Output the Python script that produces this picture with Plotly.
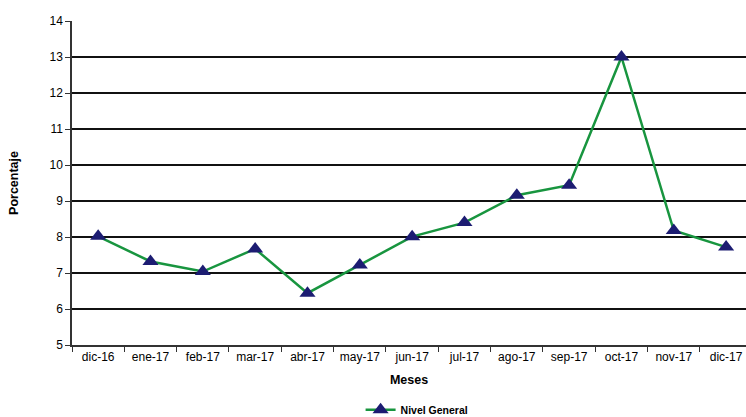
import plotly.graph_objects as go

meses = ["dic-16", "ene-17", "feb-17", "mar-17", "abr-17", "may-17", "jun-17",
         "jul-17", "ago-17", "sep-17", "oct-17", "nov-17", "dic-17"]
nivel_general = [8.02, 7.32, 7.04, 7.67, 6.44, 7.22, 8.01, 8.40, 9.16, 9.44, 13.0, 8.18, 7.72]
y_ticks = [5, 6, 7, 8, 9, 10, 11, 12, 13, 14]

font_family = "Liberation Sans, Arial, sans-serif"

fig = go.Figure()
fig.add_trace(go.Scatter(
    x=meses, y=nivel_general, mode="lines+markers", name="Nivel General",
    line=dict(color="#18953F", width=2.5),
    marker=dict(symbol="triangle-up", size=14, color="#1C1C72"),
))

fig.update_layout(
    width=746, height=417,
    margin=dict(l=72, r=0, t=21, b=72, autoexpand=False),
    paper_bgcolor="white", plot_bgcolor="white",
    font=dict(family=font_family, size=12, color="black"),
    showlegend=True,
    legend=dict(orientation="h", x=0.512, xanchor="center", y=-0.2, yanchor="middle",
                font=dict(size=10.5, family=font_family, weight="bold"),
                bgcolor="rgba(0,0,0,0)"),
    xaxis=dict(
        type="category", range=[-0.5, 12.38], automargin=False,
        showline=True, linecolor="#333333", linewidth=1.5,
        ticks="outside", tickson="boundaries", ticklen=5, tickcolor="#333333",
        showgrid=False,
        title=dict(text="<b>Meses</b>", font=dict(size=12.5), standoff=12),
        tickfont=dict(size=12),
    ),
    yaxis=dict(
        range=[5, 14], tickvals=y_ticks, automargin=False,
        showline=True, linecolor="#333333", linewidth=1.5,
        ticks="outside", ticklen=5, tickcolor="#333333",
        showgrid=True, gridcolor="#111111", gridwidth=1.5,
        zeroline=False,
        title=dict(text="<b>Porcentaje</b>", font=dict(size=12.5), standoff=28),
        tickfont=dict(size=12),
    ),
)

fig.write_html(
    "out.html",
    config={"displayModeBar": False},
    post_script="document.body.style.margin='0';document.body.style.overflow='hidden';",
)
